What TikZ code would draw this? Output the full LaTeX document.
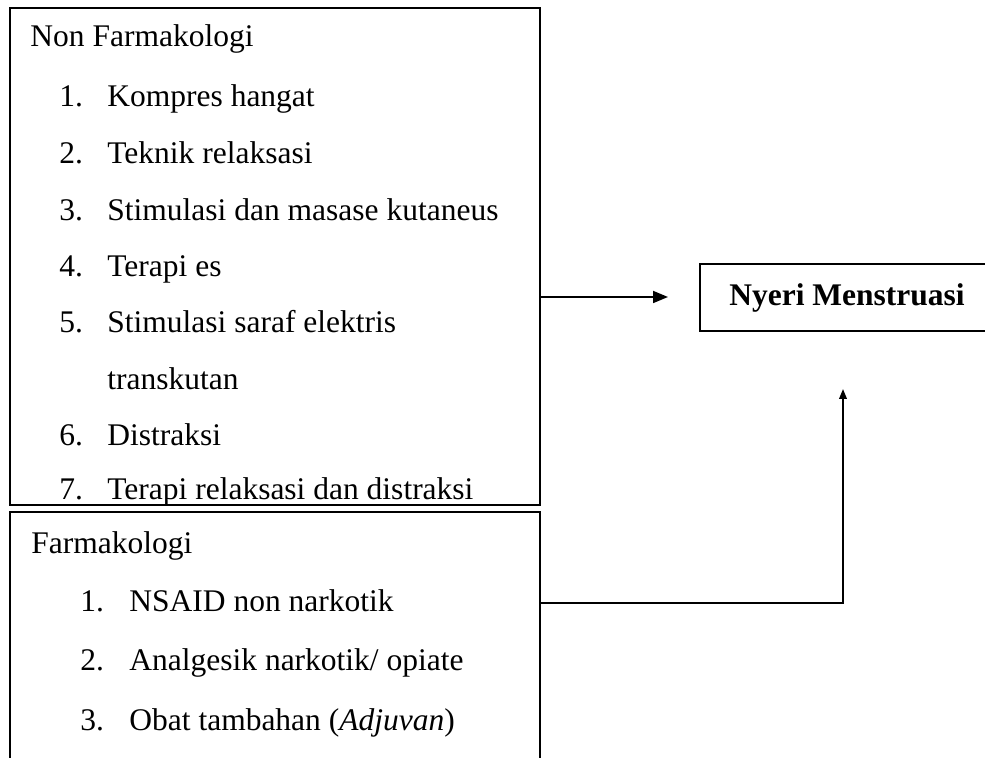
\documentclass[tikz,border=0pt]{standalone}
\usepackage{fontspec}
\setmainfont{Liberation Serif}
\usetikzlibrary{arrows.meta}
\begin{document}
\begin{tikzpicture}[x=0.5pt,y=-0.5pt,
  box/.style={draw=black,line width=1pt,inner sep=0pt},
  txt/.style={anchor=base west,inner sep=0pt,font=\fontsize{15.75pt}{18pt}\selectfont},
  conn/.style={draw=black,line width=0.9pt}]
\clip (0,0) rectangle (985,758);
\fill[white] (0,0) rectangle (985,758);
% boxes
\node[box,minimum width=265pt,minimum height=248.5pt] (nonf) at (275,256.5) {};
\node[box,minimum width=265pt,minimum height=129pt] (farm) at (275,641) {};
\node[box,minimum width=147pt,minimum height=33.5pt,font=\fontsize{15.75pt}{18pt}\selectfont\bfseries] (nyeri) at (847,297.5) {Nyeri Menstruasi};
% top box texts
\node[txt] (t0) at (30,47) {Non Farmakologi};
\node[txt] (n1) at (59,107) {1.};   \node[txt] (i1) at (107,107) {Kompres hangat};
\node[txt] (n2) at (59,164) {2.};   \node[txt] (i2) at (107,164) {Teknik relaksasi};
\node[txt] (n3) at (59,221) {3.};   \node[txt] (i3) at (107,221) {Stimulasi dan masase kutaneus};
\node[txt] (n4) at (59,277) {4.};   \node[txt] (i4) at (107,277) {Terapi es};
\node[txt] (n5) at (59,333) {5.};   \node[txt] (i5) at (107,333) {Stimulasi saraf elektris};
\node[txt] (i5b) at (107,389.5) {transkutan};
\node[txt] (n6) at (59,446) {6.};   \node[txt] (i6) at (107,446) {Distraksi};
\node[txt] (n7) at (59,500) {7.};   \node[txt] (i7) at (107,500) {Terapi relaksasi dan distraksi};
% bottom box texts
\node[txt] (f0) at (31,553) {Farmakologi};
\node[txt] (m1) at (80,611) {1.};      \node[txt] (j1) at (129,611) {NSAID non narkotik};
\node[txt] (m2) at (80,670.5) {2.};    \node[txt] (j2) at (129,670.5) {Analgesik narkotik/ opiate};
\node[txt] (m3) at (80,730) {3.};      \node[txt] (j3) at (129,730) {Obat tambahan (\textit{Adjuvan})};
% connectors
\coordinate (a1end) at (668,297);
\coordinate (a2end) at (843,389);
\draw[conn,-{Triangle[length=7.5pt,width=6pt]}] (nonf.east |- a1end) -- (a1end);
\draw[conn,-{Triangle[length=5pt,width=3.8pt]}] (farm.east |- 0,603) -| (a2end);
\end{tikzpicture}
\end{document}
